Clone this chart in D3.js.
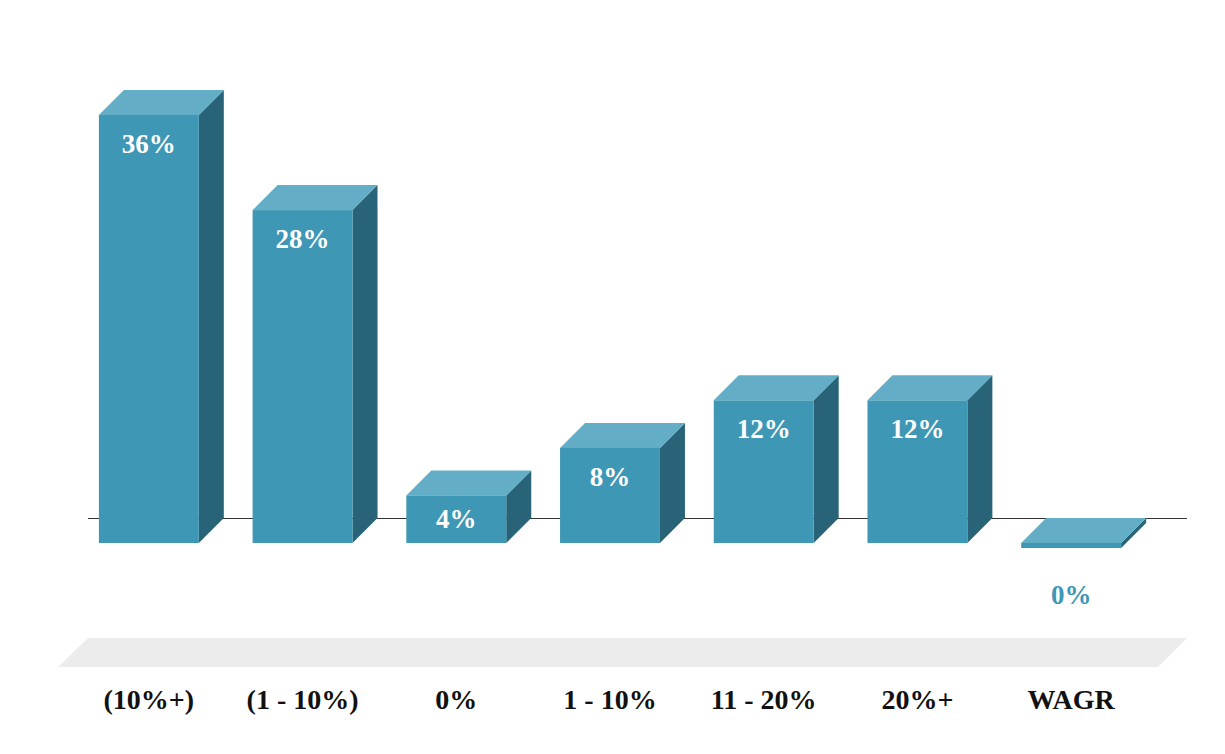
<!DOCTYPE html>
<html><head><meta charset="utf-8">
<script src="https://cdn.jsdelivr.net/npm/d3@7"></script>
<style>html,body{margin:0;padding:0;background:#fff;}svg{display:block;}</style>
</head><body>
<svg id="c" width="1225" height="754"></svg>
<script>
const categories = ["(10%+)", "(1 - 10%)", "0%", "1 - 10%", "11 - 20%", "20%+", "WAGR"];
const values = [36, 28, 4, 8, 12, 12, 0];
const valueLabels = ["36%", "28%", "4%", "8%", "12%", "12%", "0%"];

const svg = d3.select("#c");
const depth = 25;
const x = d3.scaleBand().domain(categories).range([72, 1148]).paddingInner(0.35).paddingOuter(0.175);
const y = d3.scaleLinear().domain([0, 36]).range([543, 115]);
const font = "'Liberation Serif','Times New Roman',serif";

// floor
const fy0 = 638, fy1 = 667;
svg.append("path")
  .attr("d", `M58,${fy1} L88,${fy0} L1187,${fy0} L1158,${fy1} Z`)
  .attr("fill", "#ececec");

// baseline
svg.append("line").attr("x1", 88).attr("x2", 1187)
  .attr("y1", y(0) - depth + 0.5).attr("y2", y(0) - depth + 0.5)
  .attr("stroke", "#333").attr("stroke-width", 1);

const g = svg.append("g");
categories.forEach((c, i) => {
  const v = values[i];
  const x0 = x(c), w = x.bandwidth();
  let top = y(v), bot = y(0);
  if (v === 0) { bot = y(0) + 5; }
  const bg = g.append("g");
  bg.append("path")
    .attr("d", `M${x0 + w},${top} L${x0 + w + depth},${top - depth} L${x0 + w + depth},${bot - depth} L${x0 + w},${bot} Z`)
    .attr("fill", "#286378");
  bg.append("path")
    .attr("d", `M${x0},${top} L${x0 + depth},${top - depth} L${x0 + w + depth},${top - depth} L${x0 + w},${top} Z`)
    .attr("fill", "#63aec6");
  bg.append("rect").attr("x", x0).attr("y", top).attr("width", w).attr("height", bot - top)
    .attr("fill", "#3e97b5");
  const h = bot - top;
  if (v > 0) {
    bg.append("text").attr("x", x0 + w / 2).attr("y", top + Math.min(29, h / 2))
      .attr("text-anchor", "middle").attr("dominant-baseline", "central")
      .attr("font-family", font).attr("font-weight", "bold").attr("font-size", 27)
      .attr("fill", "#fff").text(valueLabels[i]);
  } else {
    bg.append("text").attr("x", x0 + w / 2).attr("y", 595)
      .attr("text-anchor", "middle").attr("dominant-baseline", "central")
      .attr("font-family", font).attr("font-weight", "bold").attr("font-size", 27)
      .attr("fill", "#3e97b5").text(valueLabels[i]);
  }
});

svg.append("g").selectAll("text").data(categories).join("text")
  .attr("x", d => x(d) + x.bandwidth() / 2)
  .attr("y", 699)
  .attr("text-anchor", "middle").attr("dominant-baseline", "central")
  .attr("font-family", font).attr("font-weight", "bold").attr("font-size", 28)
  .attr("fill", "#111").text(d => d);
</script>
</body></html>
